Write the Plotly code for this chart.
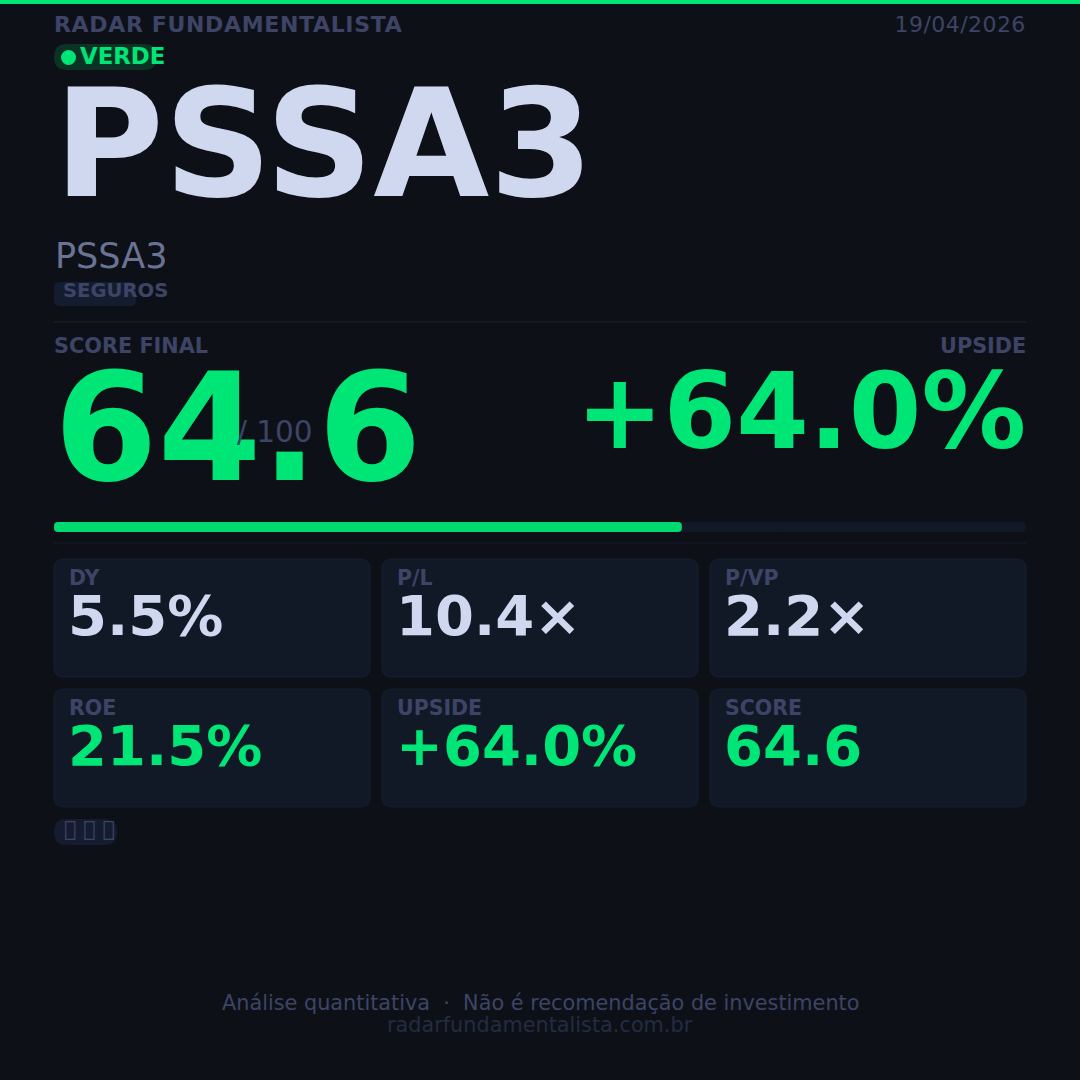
import plotly.graph_objects as go

ticker = "PSSA3"
company = "PSSA3"
sector = "SEGUROS"
signal = "VERDE"
report_date = "19/04/2026"
score = 64.6
upside = "+64.0%"
score_max = 100
metric_labels = ["DY", "P/L", "P/VP", "ROE", "UPSIDE", "SCORE"]
metric_values = ["5.5%", "10.4×", "2.2×", "21.5%", "+64.0%", "64.6"]
metric_colors = ["#d0d8f0", "#d0d8f0", "#d0d8f0", "#00e676", "#00e676", "#00e676"]
badges = "\uE000 \uE001 \uE002"

BG = "#0d1117"
GREEN = "#00e676"
MUTED = "#3d4466"
CARD = "#111927"
FONT = "DejaVu Sans"

fig = go.Figure()


# progress bar, on its own axes. plotly only rounds the far end of a bar,
# so each one is two overlapping bars going out in opposite directions
def round_bar(value, color):
    for start, length in ((value * 0.25, value * 0.75), (value * 0.75, -value * 0.75)):
        fig.add_trace(go.Bar(x=[length], y=[0], base=[start], orientation="h", width=1,
                             marker=dict(color=color, line_width=0, cornerradius=4),
                             xaxis="x2", yaxis="y2", hoverinfo="skip"))


round_bar(score_max, "#111927")
round_bar(score, "#00d870")


def box(x0, y0, x1, y1, r, fill, line=None):
    path = (f"M{x0+r},{y0} L{x1-r},{y0} Q{x1},{y0} {x1},{y0+r} L{x1},{y1-r} Q{x1},{y1} {x1-r},{y1} "
            f"L{x0+r},{y1} Q{x0},{y1} {x0},{y1-r} L{x0},{y0+r} Q{x0},{y0} {x0+r},{y0} Z")
    fig.add_shape(type="path", path=path, xref="x", yref="y", fillcolor=fill, layer="below",
                  line=dict(color=line, width=1) if line else dict(width=0))


def label(x, y, text, size, color, bold=False, anchor="left"):
    fig.add_annotation(x=x, y=y, xref="x", yref="y", text=text, showarrow=False, xanchor=anchor,
                       yanchor="middle", borderpad=0, borderwidth=0,
                       font=dict(family=FONT, size=size, color=color, weight=700 if bold else 400))


box(0, 0, 1080, 4, 0, GREEN)
label(54, 24, "RADAR FUNDAMENTALISTA", 22, MUTED, True)
label(1026, 24, report_date, 22, MUTED, anchor="right")

box(54, 44, 157, 70, 13, "#0a3325")
fig.add_shape(type="circle", xref="x", yref="y", x0=61, y0=50, x1=76, y1=65, fillcolor=GREEN, line_width=0)
label(80, 56, signal, 22.8, GREEN, True)

label(54, 144, ticker, 150, "#d0d8f0", True)
label(55, 256, company, 35, "#6b7394")

box(54, 282, 136, 306, 6, "#141c30")
label(63, 290, sector, 19.6, MUTED, True)

fig.add_shape(type="line", xref="x", yref="y", x0=54, x1=1026, y0=322, y1=322, line=dict(color="#1a2035", width=1))
label(54, 346, "SCORE FINAL", 20.8, MUTED, True)
label(1026, 346, "UPSIDE", 20.8, MUTED, True, anchor="right")

label(54, 428, f"{score}", 149, GREEN, True)
label(237, 432, f"/ {score_max}", 29.5, MUTED)
label(1026, 412, upside, 104.5, GREEN, True, anchor="right")

fig.add_shape(type="line", xref="x", yref="y", x0=54, x1=1026, y0=543, y1=543, line=dict(color="#141a29", width=1))

card_x = [54, 382, 710]
card_y = [559, 689]
for i in range(len(metric_labels)):
    cx = card_x[i % 3]
    cy = card_y[i // 3]
    box(cx, cy, cx + 316, cy + 118, 10, CARD, "#172030")
    label(cx + 15, cy + 19, metric_labels[i], 20.5, MUTED, True)
    label(cx + 14, cy + 56, metric_values[i], 56, metric_colors[i], True)

box(54, 819, 117, 845, 13, "#161c30")
label(64, 829, badges, 21, MUTED)

label(540, 1003, "Análise quantitativa  ·  Não é recomendação de investimento", 20.8, MUTED, anchor="center")
label(540, 1025, "radarfundamentalista.com.br", 20.8, "#252b42", anchor="center")

fig.update_layout(
    width=1080, height=1080, margin=dict(l=0, r=0, t=0, b=0, autoexpand=False),
    paper_bgcolor=BG, plot_bgcolor=BG, showlegend=False, barmode="overlay",
    xaxis=dict(range=[0, 1080], visible=False, domain=[0, 1], fixedrange=True),
    yaxis=dict(range=[1080, 0], visible=False, domain=[0, 1], fixedrange=True),
    xaxis2=dict(range=[0, score_max], visible=False, domain=[54 / 1080, 1026 / 1080], anchor="y2", fixedrange=True),
    yaxis2=dict(range=[-0.5, 0.5], visible=False, domain=[1 - 532 / 1080, 1 - 522 / 1080], anchor="x2", fixedrange=True),
)

# plotly has no letter spacing for fonts, so set it on the svg text afterwards
spacing = {"RADAR FUNDAMENTALISTA|22": 0.66, report_date + "|22": 0.44}
js = """
document.body.style.margin = '0';
var spacing = %s;
document.querySelectorAll('.annotation-text').forEach(function (t) {
  var size = parseFloat(t.style.fontSize);
  var s = spacing[t.textContent + '|' + size];
  if (s === undefined) return;
  var before = t.getBBox();
  var right = t.textContent === '%s';
  t.style.letterSpacing = s + 'px';
  var after = t.getBBox();
  var dx = right ? (before.x + before.width) - (after.x + after.width) : before.x - after.x;
  t.setAttribute('x', parseFloat(t.getAttribute('x')) + dx);
});
""" % (str(spacing).replace("'", '"'), report_date)

fig.write_html("out.html", post_script=js, config={"displayModeBar": False})
